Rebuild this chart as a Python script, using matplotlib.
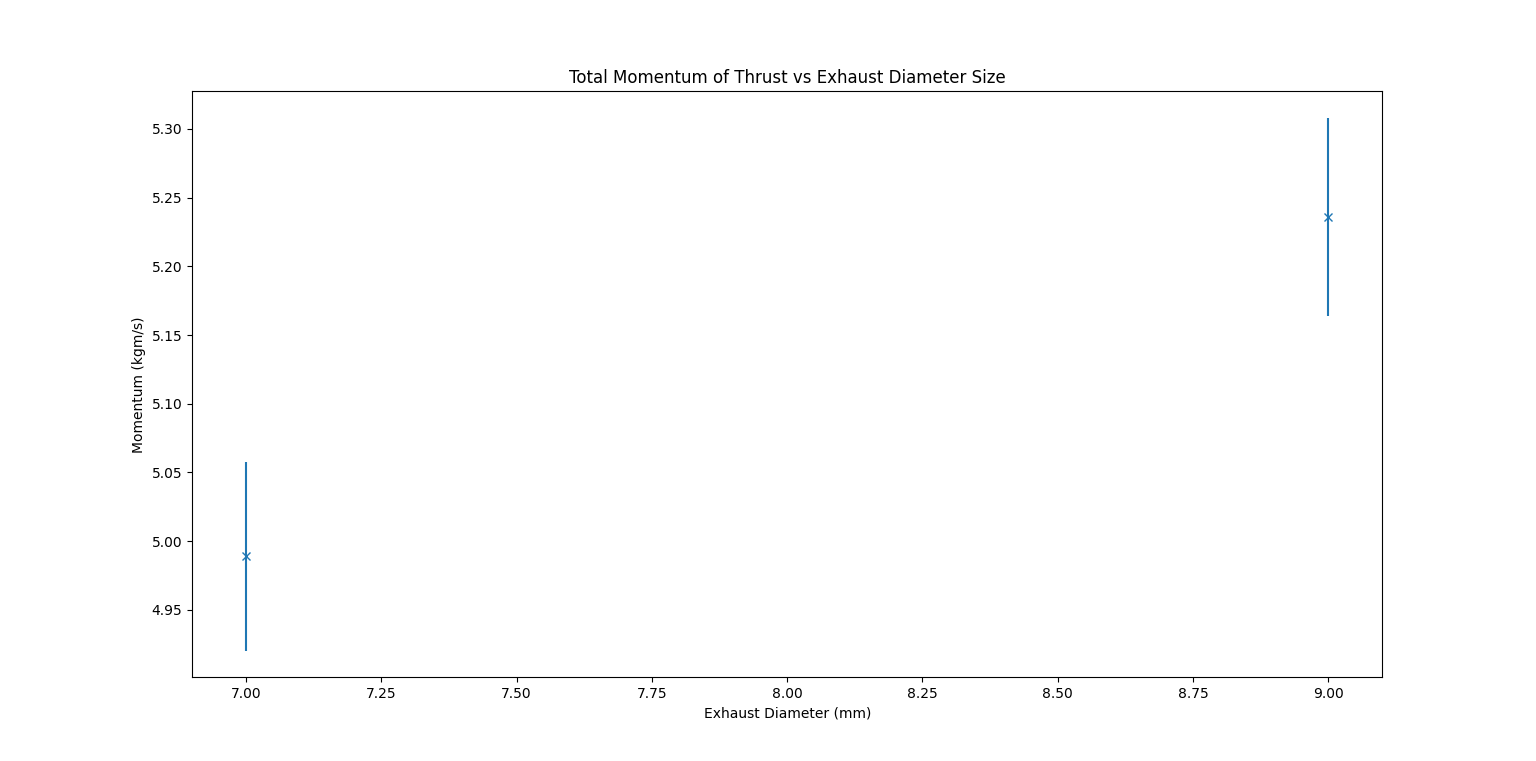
import matplotlib
matplotlib.use("Agg")
import matplotlib.pyplot as plt

# exhaust diameter (mm) and measured total momentum (kgm/s)
diameter = [7, 9]
momentum = [4.989, 5.236]
momentum_err = [0.0687, 0.072]

fig = plt.figure(figsize=(15.36, 7.61), dpi=100)
plt.errorbar(diameter, momentum, yerr=momentum_err, fmt='x')
plt.title("Total Momentum of Thrust vs Exhaust Diameter Size")
plt.xlabel("Exhaust Diameter (mm)")
plt.ylabel("Momentum (kgm/s)")
plt.savefig("out.png", dpi=100)
